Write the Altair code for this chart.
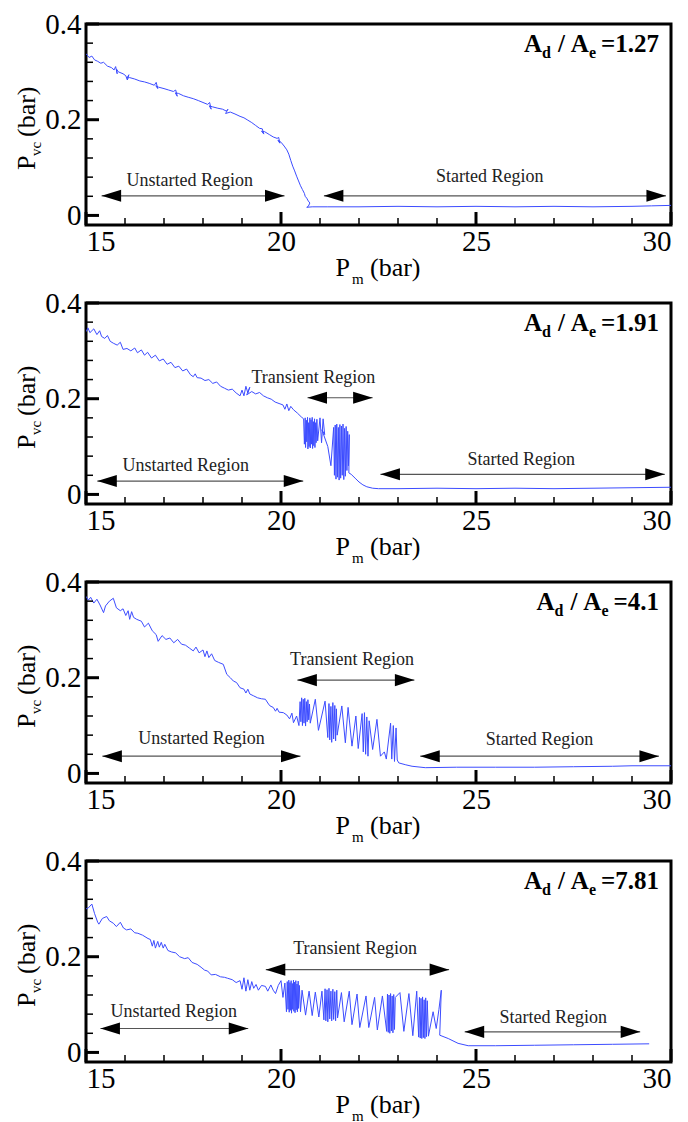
import altair as alt
import pandas as pd

FONT = "Liberation Serif"
LINE_BLUE = "#3c4cff"
W, H = 585, 201
X_DOMAIN = [15, 30]
Y_DOMAIN = [-0.02, 0.4]

x_major = [15, 20, 25, 30]
x_minor = [16, 17, 18, 19, 21, 22, 23, 24, 26, 27, 28, 29]
y_major = [0, 0.2, 0.4]
y_minor = [0.04, 0.08, 0.12, 0.16, 0.24, 0.28, 0.32, 0.36]

# Measured traces, (Pm, Pvc) in bar, in acquisition order
trace_127 = [
    (15.00, 0.338), (15.08, 0.330), (15.15, 0.333), (15.22, 0.325), (15.30, 0.322), (15.38, 0.318),
    (15.45, 0.320), (15.55, 0.312), (15.65, 0.309), (15.72, 0.304), (15.76, 0.311), (15.80, 0.296),
    (15.78, 0.306), (15.83, 0.300), (15.95, 0.296), (16.02, 0.292), (16.06, 0.283), (16.10, 0.294),
    (16.05, 0.287), (16.12, 0.288), (16.25, 0.285), (16.38, 0.281), (16.50, 0.279), (16.62, 0.276),
    (16.75, 0.272), (16.80, 0.278), (16.84, 0.265), (16.79, 0.271), (16.86, 0.268), (17.00, 0.265),
    (17.12, 0.262), (17.24, 0.259), (17.30, 0.262), (17.34, 0.249), (17.29, 0.256), (17.37, 0.255),
    (17.50, 0.250), (17.62, 0.247), (17.75, 0.244), (17.88, 0.240), (18.00, 0.236), (18.12, 0.232),
    (18.17, 0.236), (18.21, 0.222), (18.16, 0.229), (18.24, 0.227), (18.38, 0.224), (18.50, 0.222),
    (18.60, 0.218), (18.64, 0.222), (18.58, 0.213), (18.70, 0.216), (18.82, 0.212), (18.95, 0.207),
    (19.05, 0.204), (19.15, 0.199), (19.25, 0.194), (19.35, 0.188), (19.45, 0.182), (19.52, 0.181),
    (19.56, 0.170), (19.50, 0.176), (19.58, 0.175), (19.70, 0.169), (19.80, 0.164), (19.90, 0.161),
    (19.94, 0.163), (19.97, 0.151), (19.92, 0.157), (20.00, 0.153), (20.08, 0.145), (20.15, 0.137),
    (20.20, 0.128), (20.25, 0.115), (20.30, 0.103), (20.35, 0.093), (20.40, 0.082), (20.45, 0.072),
    (20.50, 0.062), (20.55, 0.054), (20.60, 0.046), (20.62, 0.040), (20.66, 0.036), (20.70, 0.030),
    (20.74, 0.026), (20.70, 0.019), (20.66, 0.017), (20.80, 0.018), (21.20, 0.018), (22.00, 0.018),
    (23.00, 0.019), (24.00, 0.018), (25.00, 0.019), (26.00, 0.018), (27.00, 0.019), (28.00, 0.018),
    (29.00, 0.019), (29.50, 0.020), (30.00, 0.021),
]

trace_191 = [
    (15.00, 0.340), (15.05, 0.348), (15.10, 0.338), (15.20, 0.346), (15.28, 0.334), (15.35, 0.342),
    (15.40, 0.330), (15.48, 0.326), (15.55, 0.332), (15.62, 0.320), (15.70, 0.316), (15.80, 0.312),
    (15.88, 0.318), (15.95, 0.303), (16.05, 0.305), (16.15, 0.300), (16.25, 0.306), (16.32, 0.296),
    (16.42, 0.302), (16.50, 0.291), (16.58, 0.297), (16.68, 0.285), (16.78, 0.291), (16.88, 0.279),
    (16.98, 0.283), (17.08, 0.272), (17.18, 0.276), (17.28, 0.265), (17.38, 0.268), (17.48, 0.258),
    (17.58, 0.262), (17.68, 0.250), (17.75, 0.246), (17.80, 0.252), (17.85, 0.244), (17.95, 0.243),
    (18.05, 0.238), (18.15, 0.240), (18.25, 0.232), (18.35, 0.235), (18.45, 0.226), (18.55, 0.222),
    (18.65, 0.218), (18.75, 0.220), (18.85, 0.212), (18.95, 0.206), (19.00, 0.218), (19.05, 0.206),
    (19.10, 0.226), (19.15, 0.212), (19.20, 0.224), (19.12, 0.208), (19.25, 0.215), (19.35, 0.210),
    (19.45, 0.213), (19.55, 0.206), (19.65, 0.202), (19.75, 0.199), (19.85, 0.193), (19.95, 0.190),
    (20.05, 0.187), (20.10, 0.178), (20.15, 0.189), (20.20, 0.175), (20.25, 0.184), (20.32, 0.177),
    (20.42, 0.170), (20.52, 0.162), (20.58, 0.158), (20.60, 0.105), (20.62, 0.160), (20.63, 0.098),
    (20.65, 0.155), (20.66, 0.110), (20.68, 0.161), (20.69, 0.095), (20.71, 0.150), (20.72, 0.100),
    (20.74, 0.160), (20.75, 0.097), (20.77, 0.156), (20.78, 0.105), (20.80, 0.161), (20.81, 0.096),
    (20.83, 0.152), (20.84, 0.102), (20.86, 0.158), (20.87, 0.098), (20.89, 0.150), (20.90, 0.108),
    (20.92, 0.157), (20.94, 0.112), (21.00, 0.160), (21.04, 0.108), (21.08, 0.158), (21.12, 0.125),
    (21.05, 0.135), (21.20, 0.100), (21.28, 0.060), (21.35, 0.140), (21.37, 0.040), (21.39, 0.145),
    (21.41, 0.032), (21.43, 0.147), (21.45, 0.036), (21.47, 0.140), (21.49, 0.030), (21.51, 0.146),
    (21.53, 0.034), (21.55, 0.143), (21.57, 0.040), (21.59, 0.147), (21.61, 0.031), (21.63, 0.138),
    (21.65, 0.038), (21.67, 0.142), (21.69, 0.050), (21.71, 0.132), (21.73, 0.060), (21.75, 0.125),
    (21.74, 0.045), (21.80, 0.042), (21.90, 0.034), (22.00, 0.026), (22.10, 0.020), (22.20, 0.016),
    (22.35, 0.013), (22.50, 0.012), (23.00, 0.012), (24.00, 0.013), (25.00, 0.012), (26.00, 0.013),
    (27.00, 0.012), (28.00, 0.013), (29.00, 0.014), (30.00, 0.015),
]

trace_41 = [
    (15.00, 0.370), (15.06, 0.362), (15.12, 0.368), (15.20, 0.356), (15.28, 0.364), (15.36, 0.352),
    (15.45, 0.336), (15.50, 0.350), (15.60, 0.360), (15.70, 0.366), (15.78, 0.346), (15.88, 0.340),
    (15.95, 0.344), (16.02, 0.330), (16.08, 0.340), (16.12, 0.322), (16.17, 0.338), (16.22, 0.326),
    (16.30, 0.322), (16.42, 0.318), (16.50, 0.306), (16.60, 0.314), (16.70, 0.298), (16.80, 0.290),
    (16.85, 0.276), (16.95, 0.288), (17.05, 0.280), (17.15, 0.283), (17.25, 0.273), (17.35, 0.280),
    (17.45, 0.270), (17.55, 0.268), (17.65, 0.262), (17.75, 0.256), (17.82, 0.264), (17.90, 0.252),
    (18.00, 0.258), (18.05, 0.244), (18.10, 0.256), (18.15, 0.242), (18.22, 0.250), (18.30, 0.236),
    (18.40, 0.232), (18.52, 0.228), (18.61, 0.207), (18.70, 0.200), (18.78, 0.193), (18.86, 0.190),
    (18.95, 0.179), (19.05, 0.176), (19.10, 0.168), (19.15, 0.176), (19.20, 0.166), (19.30, 0.162),
    (19.40, 0.158), (19.50, 0.156), (19.60, 0.155), (19.68, 0.145), (19.72, 0.141), (19.80, 0.138),
    (19.86, 0.130), (19.90, 0.136), (19.95, 0.128), (20.06, 0.127), (20.15, 0.122), (20.22, 0.114),
    (20.28, 0.126), (20.32, 0.106), (20.40, 0.120), (20.46, 0.100), (20.49, 0.150), (20.51, 0.108),
    (20.53, 0.158), (20.55, 0.100), (20.57, 0.155), (20.59, 0.105), (20.61, 0.157), (20.63, 0.099),
    (20.65, 0.150), (20.67, 0.108), (20.69, 0.154), (20.71, 0.112), (20.73, 0.145), (20.75, 0.105),
    (20.88, 0.155), (20.96, 0.090), (21.13, 0.151), (21.20, 0.075), (21.23, 0.146), (21.25, 0.070),
    (21.28, 0.140), (21.30, 0.065), (21.33, 0.148), (21.35, 0.072), (21.38, 0.142), (21.40, 0.068),
    (21.42, 0.135), (21.44, 0.080), (21.56, 0.141), (21.65, 0.064), (21.72, 0.138), (21.82, 0.057),
    (21.92, 0.120), (21.98, 0.052), (22.08, 0.125), (22.11, 0.045), (22.14, 0.127), (22.17, 0.040),
    (22.20, 0.118), (22.23, 0.036), (22.26, 0.110), (22.35, 0.050), (22.46, 0.113), (22.55, 0.036),
    (22.65, 0.045), (22.70, 0.030), (22.81, 0.105), (22.84, 0.030), (22.88, 0.100), (22.91, 0.025),
    (22.95, 0.095), (22.98, 0.028), (23.02, 0.022), (23.20, 0.018), (23.36, 0.015), (23.70, 0.012),
    (24.50, 0.013), (25.50, 0.013), (26.50, 0.013), (27.50, 0.014), (28.50, 0.015), (29.00, 0.016),
    (30.00, 0.016),
]

trace_781 = [
    (15.00, 0.300), (15.06, 0.302), (15.15, 0.310), (15.22, 0.290), (15.30, 0.272), (15.33, 0.268),
    (15.42, 0.280), (15.53, 0.284), (15.60, 0.275), (15.70, 0.270), (15.78, 0.263), (15.88, 0.272),
    (15.96, 0.260), (16.04, 0.256), (16.15, 0.258), (16.25, 0.250), (16.33, 0.249), (16.45, 0.245),
    (16.59, 0.238), (16.65, 0.236), (16.70, 0.222), (16.74, 0.234), (16.78, 0.218), (16.84, 0.232),
    (16.88, 0.220), (16.93, 0.230), (16.98, 0.218), (17.02, 0.226), (17.10, 0.213), (17.19, 0.210),
    (17.30, 0.208), (17.40, 0.200), (17.53, 0.196), (17.62, 0.198), (17.72, 0.188), (17.85, 0.184),
    (17.95, 0.178), (18.04, 0.172), (18.12, 0.170), (18.21, 0.162), (18.32, 0.163), (18.45, 0.158),
    (18.55, 0.157), (18.63, 0.155), (18.75, 0.152), (18.85, 0.146), (18.95, 0.150), (19.00, 0.132),
    (19.05, 0.156), (19.10, 0.128), (19.15, 0.152), (19.20, 0.130), (19.25, 0.148), (19.30, 0.134),
    (19.36, 0.142), (19.42, 0.130), (19.50, 0.140), (19.60, 0.138), (19.66, 0.128), (19.74, 0.141),
    (19.80, 0.130), (19.86, 0.123), (19.93, 0.140), (20.00, 0.150), (20.05, 0.115), (20.10, 0.145),
    (20.14, 0.085), (20.16, 0.148), (20.18, 0.090), (20.20, 0.151), (20.21, 0.084), (20.23, 0.146),
    (20.24, 0.088), (20.26, 0.150), (20.27, 0.082), (20.29, 0.144), (20.30, 0.090), (20.32, 0.151),
    (20.33, 0.086), (20.35, 0.147), (20.36, 0.083), (20.38, 0.150), (20.39, 0.089), (20.41, 0.143),
    (20.42, 0.085), (20.44, 0.149), (20.45, 0.092), (20.47, 0.140), (20.50, 0.085), (20.54, 0.130),
    (20.63, 0.078), (20.72, 0.128), (20.80, 0.077), (20.88, 0.126), (20.97, 0.074), (21.05, 0.128),
    (21.10, 0.068), (21.13, 0.133), (21.15, 0.066), (21.18, 0.131), (21.20, 0.064), (21.23, 0.134),
    (21.25, 0.070), (21.28, 0.128), (21.30, 0.066), (21.33, 0.132), (21.35, 0.069), (21.38, 0.127),
    (21.40, 0.066), (21.43, 0.130), (21.45, 0.072), (21.55, 0.125), (21.62, 0.064), (21.75, 0.128),
    (21.82, 0.058), (21.95, 0.122), (22.02, 0.052), (22.18, 0.118), (22.25, 0.052), (22.40, 0.115),
    (22.47, 0.047), (22.60, 0.118), (22.71, 0.044), (22.73, 0.122), (22.75, 0.042), (22.77, 0.120),
    (22.79, 0.040), (22.81, 0.123), (22.83, 0.045), (22.85, 0.118), (22.87, 0.041), (22.89, 0.121),
    (22.91, 0.048), (22.93, 0.115), (23.05, 0.125), (23.15, 0.044), (23.28, 0.123), (23.38, 0.035),
    (23.48, 0.128), (23.53, 0.032), (23.55, 0.115), (23.57, 0.030), (23.59, 0.113), (23.61, 0.029),
    (23.63, 0.116), (23.65, 0.031), (23.67, 0.110), (23.69, 0.029), (23.71, 0.114), (23.73, 0.033),
    (23.75, 0.108), (23.78, 0.034), (23.90, 0.085), (23.98, 0.050), (24.05, 0.090), (24.11, 0.130),
    (24.07, 0.036), (24.29, 0.029), (24.54, 0.019), (24.80, 0.014), (25.50, 0.014), (26.50, 0.015),
    (27.50, 0.016), (28.50, 0.017), (29.44, 0.018),
]

# region annotations: (text, centre Pm, centre Pvc) and arrows (from Pm, to Pm, at Pvc)
labels_127 = [("Unstarted Region", 17.66, 0.071), ("Started Region", 25.35, 0.080)]
arrows_127 = [(15.40, 20.09, 0.041), (21.10, 29.87, 0.041)]
labels_191 = [("Transient Region", 20.83, 0.244), ("Unstarted Region", 17.56, 0.060),
              ("Started Region", 26.16, 0.071)]
arrows_191 = [(20.68, 22.35, 0.202), (15.29, 20.57, 0.028), (22.55, 29.84, 0.042)]
labels_41 = [("Transient Region", 21.82, 0.238), ("Unstarted Region", 17.96, 0.071),
             ("Started Region", 26.63, 0.069)]
arrows_41 = [(20.42, 23.42, 0.195), (15.42, 20.50, 0.036), (23.57, 29.69, 0.036)]
labels_781 = [("Transient Region", 21.90, 0.217), ("Unstarted Region", 17.25, 0.085),
              ("Started Region", 26.98, 0.071)]
arrows_781 = [(19.61, 24.31, 0.173), (15.37, 19.16, 0.050), (24.71, 29.21, 0.043)]

# Times-style bold advance widths (em) used to lay out the area-ratio tag
BOLD_EM = {"A": 0.722, "d": 0.556, "e": 0.444, "/": 0.278, "=": 0.570, ".": 0.25}


def text_width(s, size):
    return sum(BOLD_EM.get(ch, 0.5) for ch in s) * size


XS = alt.Scale(domain=X_DOMAIN, nice=False, zero=False)
YS = alt.Scale(domain=Y_DOMAIN, nice=False, zero=False)
X_AXIS = alt.Axis(values=x_major, title=None, format="d", labelPadding=2)
Y_AXIS = alt.Axis(values=y_major, title=None, labelPadding=5,
                  labelExpr="datum.value == 0 ? '0' : format(datum.value, '.1f')")
ONE = pd.DataFrame({"k": [0]})


def xenc(field):
    return alt.X(field, scale=XS, axis=X_AXIS)


def yenc(field):
    return alt.Y(field, scale=YS, axis=Y_AXIS)


def txt(s, x, y, size, bold=False, align="left", angle=0, baseline="alphabetic"):
    return alt.Chart(ONE).mark_text(
        text=s, font=FONT, fontSize=size, fontWeight="bold" if bold else "normal",
        align=align, baseline=baseline, angle=angle, color="black"
    ).encode(x=alt.value(x), y=alt.value(y))


def panel(trace, ratio, labels, arrows):
    df = pd.DataFrame(trace, columns=["pm", "pvc"])
    df["i"] = range(len(df))
    curve = alt.Chart(df).mark_line(color=LINE_BLUE, strokeWidth=1, clip=True).encode(
        x=xenc("pm:Q"), y=yenc("pvc:Q"), order="i:Q")

    def xticks(vals, length, sw):
        return alt.Chart(pd.DataFrame({"v": vals})).mark_rule(color="black", strokeWidth=sw).encode(
            x=xenc("v:Q"), y=alt.value(H), y2=alt.value(H - length))

    def yticks(vals, length, sw):
        return alt.Chart(pd.DataFrame({"v": vals})).mark_rule(color="black", strokeWidth=sw).encode(
            y=yenc("v:Q"), x=alt.value(0), x2=alt.value(length))

    adf = pd.DataFrame(arrows, columns=["x0", "x1", "y"])
    shaft = alt.Chart(adf).mark_rule(color="#555555", strokeWidth=1.2).encode(
        x=xenc("x0:Q"), x2="x1:Q", y=yenc("y:Q"))
    head_l = alt.Chart(adf).mark_point(
        shape="M 0 0 L 2 -0.62 L 2 0.62 Z", size=380, filled=True, opacity=1,
        color="black", strokeWidth=0).encode(x=xenc("x0:Q"), y=yenc("y:Q"))
    head_r = alt.Chart(adf).mark_point(
        shape="M 0 0 L -2 -0.62 L -2 0.62 Z", size=380, filled=True, opacity=1,
        color="black", strokeWidth=0).encode(x=xenc("x1:Q"), y=yenc("y:Q"))

    ldf = pd.DataFrame(labels, columns=["text", "x", "y"])
    region_text = alt.Chart(ldf).mark_text(
        font=FONT, fontSize=18, color="#222222", baseline="middle").encode(
        x=xenc("x:Q"), y=yenc("y:Q"), text="text:N")

    # area-ratio tag "A_d / A_e =value", laid out right to left from the frame's right edge
    big, small, base, sub = 25, 16, 28, 6
    value = "=" + ratio
    x_val = (W - 12) - text_width(value, big)
    x_e = x_val - 5 - text_width("e", small)
    x_a2 = x_e - text_width("A", big)
    x_sl = x_a2 - 6 - text_width("/", big)
    x_d = x_sl - 7 - text_width("d", small)
    x_a1 = x_d - text_width("A", big)
    parts = [
        txt("A", x_a1, base, big, bold=True),
        txt("d", x_d, base + sub, small, bold=True),
        txt("/", x_sl, base, big, bold=True),
        txt("A", x_a2, base, big, bold=True),
        txt("e", x_e, base + sub, small, bold=True),
        txt(value, x_val, base, big, bold=True),
    ]

    # axis titles with subscripts
    xt_base = H + 51
    xtitle = [
        txt("P", 264, xt_base, 26, align="right"),
        txt("m", 266, xt_base + 8, 15),
        txt("(bar)", 284, xt_base, 26),
    ]
    ytitle = [
        txt("P", -51, 146, 26, angle=270),
        txt("vc", -45, 132, 15, angle=270),
        txt("(bar)", -51, 113, 26, angle=270),
    ]

    return alt.layer(
        curve,
        xticks(x_major, 13, 3), xticks(x_minor, 7, 1.5),
        yticks(y_major, 13, 3), yticks(y_minor, 7, 1.5),
        shaft, head_l, head_r, region_text,
        *parts, *xtitle, *ytitle,
    ).properties(width=W, height=H)


chart = alt.vconcat(
    panel(trace_127, "1.27", labels_127, arrows_127),
    panel(trace_191, "1.91", labels_191, arrows_191),
    panel(trace_41, "4.1", labels_41, arrows_41),
    panel(trace_781, "7.81", labels_781, arrows_781),
    spacing=78,
    bounds="flush",
).properties(
    padding={"left": 12, "top": 8, "right": 0, "bottom": 0},
    background="white",
).configure_view(
    stroke="black", strokeWidth=3
).configure_axis(
    domain=False, ticks=False, grid=False,
    labelFont=FONT, labelFontSize=29, labelColor="black",
)

chart.save("out.html", embed_options={"renderer": "svg", "actions": False})
